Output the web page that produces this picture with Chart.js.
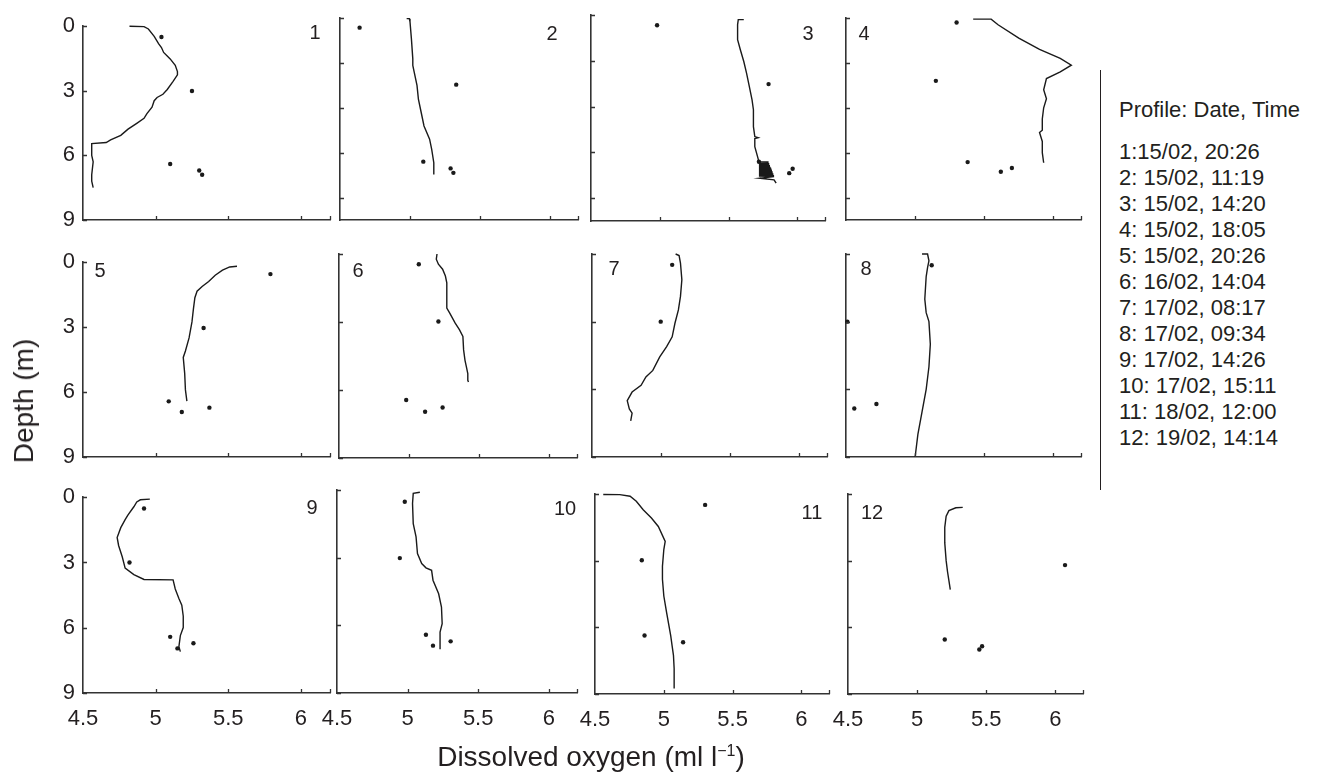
<!DOCTYPE html>
<html>
<head>
<meta charset="utf-8">
<script src="https://cdn.jsdelivr.net/npm/chart.js@4.4.0/dist/chart.umd.min.js"></script>
<style>
  body { margin: 0; background: #fff; }
  #fig { position: relative; width: 1324px; height: 774px; overflow: hidden;
         font-family: "Liberation Sans", Arial, sans-serif; color: #231f20; }
  #fig canvas { position: absolute; }
  .num { position: absolute; font-size: 20px; line-height: 20px; transform: translate(-50%, -50%); }
  .title { position: absolute; font-size: 28px; white-space: nowrap; }
  #legend { position: absolute; left: 1100px; top: 70px; height: 420px; border-left: 1.5px solid #231f20;
            padding-left: 18px; font-size: 22px; line-height: 26px; white-space: nowrap; }
</style>
</head>
<body>
<div id="fig"></div>
<script>
// ---- profile data: oxygen (ml/l) and depth (m) ----
const oxy1 = [4.82, 4.92, 4.95, 4.99, 5.02, 5.04, 5.055, 5.10, 5.135, 5.15, 5.15, 5.12, 5.08, 5.05, 5.01, 4.99, 4.975, 4.94, 4.92, 4.87, 4.81, 4.76, 4.69, 4.66, 4.56, 4.56, 4.57, 4.56, 4.56, 4.57];
const depth1 = [0.0, 0.02, 0.13, 0.47, 0.81, 0.99, 1.22, 1.52, 1.82, 2.11, 2.26, 2.56, 2.94, 3.16, 3.31, 3.46, 3.76, 4.06, 4.28, 4.51, 4.78, 5.07, 5.28, 5.40, 5.45, 6.0, 6.3, 6.9, 7.2, 7.5];
const dotOxy1 = [5.04, 5.25, 5.10, 5.30, 5.32];
const dotDepth1 = [0.5, 3.01, 6.4, 6.7, 6.9];

const oxy2 = [4.976, 4.995, 5.0, 5.01, 5.02, 5.02, 5.03, 5.05, 5.06, 5.08, 5.10, 5.14, 5.155, 5.17, 5.17];
const depth2 = [0.03, 0.03, 0.17, 0.92, 1.82, 2.11, 2.41, 3.0, 3.61, 4.21, 4.81, 5.40, 5.85, 6.45, 6.97];
const dotOxy2 = [4.64, 5.33, 5.095, 5.29, 5.31];
const dotDepth2 = [0.43, 2.97, 6.4, 6.7, 6.9];

const oxy3 = [5.61, 5.57, 5.565, 5.565, 5.585, 5.61, 5.63, 5.65, 5.67, 5.68, 5.68, 5.69, 5.715, 5.69, 5.69, 5.71, 5.72,
  5.79, 5.72, 5.79, 5.72, 5.795, 5.72, 5.795, 5.72, 5.80, 5.72, 5.80, 5.72, 5.805, 5.72, 5.81, 5.72, 5.81, 5.72,
  5.815, 5.72, 5.815, 5.72, 5.82, 5.72, 5.82, 5.72, 5.825, 5.72, 5.825, 5.72, 5.83, 5.72, 5.83,
  5.725, 5.83, 5.845];
const depth3 = [0.2, 0.2, 0.42, 1.08, 1.52, 2.03, 2.54, 3.12, 3.71, 4.14, 4.88, 5.31, 5.36, 5.4, 5.75, 6.19, 6.41,
  6.42, 6.44, 6.46, 6.48, 6.50, 6.52, 6.54, 6.56, 6.58, 6.60, 6.62, 6.64, 6.66, 6.68, 6.70, 6.72, 6.74, 6.76,
  6.78, 6.80, 6.82, 6.84, 6.86, 6.88, 6.90, 6.92, 6.94, 6.96, 6.98, 7.00, 7.02, 7.04, 7.06,
  7.13, 7.2, 7.35];
const dotOxy3 = [4.98, 5.79, 5.72, 5.94, 5.965];
const dotDepth3 = [0.45, 3.02, 6.41, 6.91, 6.72];

const oxy4 = [5.42, 5.55, 5.6, 5.75, 5.9, 6.05, 6.13, 6.05, 5.95, 5.93, 5.95, 5.93, 5.92, 5.92, 5.9, 5.92, 5.92, 5.93];
const depth4 = [0.05, 0.05, 0.3, 0.9, 1.4, 1.8, 2.1, 2.4, 2.7, 3.2, 3.6, 4.0, 4.5, 5.0, 5.1, 5.5, 6.0, 6.45];
const dotOxy4 = [5.3, 5.15, 5.38, 5.62, 5.7];
const dotDepth4 = [0.2, 2.8, 6.42, 6.85, 6.68];

const oxy5 = [5.56, 5.51, 5.46, 5.41, 5.365, 5.32, 5.285, 5.27, 5.26, 5.25, 5.23, 5.205, 5.19, 5.20, 5.205, 5.215];
const depth5 = [0.19, 0.22, 0.37, 0.6, 0.89, 1.12, 1.34, 1.64, 2.16, 2.76, 3.5, 4.1, 4.4, 5.15, 5.9, 6.42];
const dotOxy5 = [5.79, 5.33, 5.09, 5.18, 5.37];
const dotDepth5 = [0.55, 3.04, 6.43, 6.92, 6.72];

const oxy6 = [5.20, 5.195, 5.21, 5.24, 5.26, 5.27, 5.27, 5.27, 5.29, 5.33, 5.36, 5.385, 5.39, 5.40, 5.41, 5.42, 5.42, 5.425];
const depth6 = [0.0, 0.23, 0.45, 0.67, 0.97, 1.27, 1.86, 2.39, 2.6, 3.05, 3.34, 3.64, 4.23, 4.69, 4.98, 5.28, 5.57, 5.65];
const dotOxy6 = [5.07, 5.21, 4.98, 5.115, 5.24];
const dotDepth6 = [0.45, 2.98, 6.44, 6.96, 6.77];

const oxy7 = [5.105, 5.13, 5.14, 5.15, 5.14, 5.125, 5.10, 5.08, 5.04, 4.99, 4.94, 4.89, 4.855, 4.79, 4.755, 4.77, 4.79, 4.78];
const depth7 = [0.0, 0.07, 0.4, 1.14, 1.88, 2.48, 3.07, 3.67, 4.11, 4.56, 5.16, 5.45, 5.82, 6.12, 6.5, 6.87, 7.06, 7.4];
const dotOxy7 = [5.08, 4.997];
const dotDepth7 = [0.48, 3.0];

const oxy8 = [5.05, 5.09, 5.10, 5.09, 5.08, 5.07, 5.08, 5.10, 5.11, 5.10, 5.08, 5.05, 5.02, 5.0];
const depth8 = [0.0, 0.0, 0.3, 0.6, 1.0, 2.0, 2.6, 3.0, 4.0, 5.0, 6.0, 7.0, 8.0, 9.0];
const dotOxy8 = [5.12, 4.51, 4.56, 4.72];
const dotDepth8 = [0.5, 3.0, 6.85, 6.65];

const oxy9 = [4.96, 4.895, 4.87, 4.85, 4.81, 4.79, 4.76, 4.735, 4.745, 4.77, 4.79, 4.85, 4.92, 5.12, 5.135, 5.16, 5.18, 5.19, 5.19, 5.17, 5.16, 5.17];
const depth9 = [0.09, 0.12, 0.22, 0.44, 0.81, 1.03, 1.4, 1.85, 2.22, 2.74, 3.26, 3.56, 3.78, 3.8, 4.22, 4.66, 4.96, 5.47, 5.99, 6.36, 6.87, 7.1];
const dotOxy9 = [4.92, 4.82, 5.10, 5.26, 5.15];
const dotDepth9 = [0.52, 3.0, 6.42, 6.71, 6.95];

const oxy10 = [5.087, 5.04, 5.035, 5.04, 5.06, 5.07, 5.10, 5.13, 5.17, 5.18, 5.22, 5.24, 5.245, 5.23, 5.23];
const depth10 = [0.1, 0.15, 0.6, 1.49, 2.08, 2.82, 3.26, 3.45, 3.56, 4.0, 4.6, 5.19, 5.93, 6.3, 7.06];
const dotOxy10 = [4.98, 4.945, 5.13, 5.18, 5.305];
const dotDepth10 = [0.52, 3.02, 6.42, 6.9, 6.71];

const oxy11 = [4.56, 4.68, 4.755, 4.80, 4.85, 4.91, 4.96, 5.01, 5.0, 4.99, 4.99, 5.0, 5.02, 5.05, 5.06, 5.07, 5.075, 5.075];
const depth11 = [0.02, 0.03, 0.1, 0.33, 0.71, 1.08, 1.46, 2.13, 2.5, 3.25, 3.84, 4.59, 5.33, 6.37, 6.82, 7.26, 7.86, 8.75];
const dotOxy11 = [5.30, 4.84, 4.86, 5.14];
const dotDepth11 = [0.49, 2.98, 6.37, 6.67];

const oxy12 = [5.33, 5.28, 5.23, 5.21, 5.2, 5.2, 5.21, 5.22, 5.23, 5.24];
const depth12 = [0.6, 0.62, 0.75, 1.0, 1.5, 2.2, 3.0, 3.5, 3.9, 4.3];
const dotOxy12 = [6.07, 5.2, 5.47, 5.45];
const dotDepth12 = [3.2, 6.55, 6.85, 7.0];

const xTickVals = [4.5, 5, 5.5, 6];
const yTickVals = [0, 3, 6, 9];
const yTickVals2 = [0, 2, 4, 6, 8];

const legendTitle = 'Profile: Date, Time';
const legendItems = ['1:15/02, 20:26', '2: 15/02, 11:19', '3: 15/02, 14:20', '4: 15/02, 18:05',
  '5: 15/02, 20:26', '6: 16/02, 14:04', '7: 17/02, 08:17', '8: 17/02, 09:34',
  '9: 17/02, 14:26', '10: 17/02, 15:11', '11: 18/02, 12:00', '12: 19/02, 14:14'];

// ---- panel placement (plot area in px) ----
const frames = [
  { l: 83, t: 19, w: 247, h: 201, yt: yTickVals, lx: 315, ly: 32 },
  { l: 340, t: 18, w: 238, h: 202, yt: yTickVals2, lx: 552, ly: 33 },
  { l: 591, t: 15, w: 234, h: 206, yt: yTickVals2, lx: 808, ly: 33 },
  { l: 846, t: 18, w: 235, h: 202, yt: yTickVals2, lx: 864, ly: 33 },
  { l: 83, t: 255, w: 247, h: 202, yt: yTickVals, lx: 100, ly: 270 },
  { l: 339, t: 254, w: 238, h: 204, yt: yTickVals, lx: 358, ly: 270 },
  { l: 592, t: 254, w: 235, h: 203, yt: yTickVals, lx: 614, ly: 268 },
  { l: 846, t: 254, w: 235, h: 203, yt: yTickVals, lx: 866, ly: 268 },
  { l: 83, t: 490, w: 247, h: 203, yt: yTickVals, lx: 312, ly: 507 },
  { l: 337, t: 490, w: 240, h: 203, yt: yTickVals, lx: 565, ly: 508 },
  { l: 595, t: 494, w: 234, h: 200, yt: yTickVals, lx: 812, ly: 512 },
  { l: 848, t: 494, w: 235, h: 200, yt: yTickVals, lx: 872, ly: 512 }
];

const profiles = [
  [oxy1, depth1, dotOxy1, dotDepth1], [oxy2, depth2, dotOxy2, dotDepth2],
  [oxy3, depth3, dotOxy3, dotDepth3], [oxy4, depth4, dotOxy4, dotDepth4],
  [oxy5, depth5, dotOxy5, dotDepth5], [oxy6, depth6, dotOxy6, dotDepth6],
  [oxy7, depth7, dotOxy7, dotDepth7], [oxy8, depth8, dotOxy8, dotDepth8],
  [oxy9, depth9, dotOxy9, dotDepth9], [oxy10, depth10, dotOxy10, dotDepth10],
  [oxy11, depth11, dotOxy11, dotDepth11], [oxy12, depth12, dotOxy12, dotDepth12]
];

const ink = '#1a1a1a';
const axisInk = '#333';
const padL = 50, padR = 12, padT = 14, padB = 50;
const fig = document.getElementById('fig');

// small inward tick marks, matlab style
const inwardTicks = {
  id: 'inwardTicks',
  afterDraw(chart, args, opts) {
    const { ctx, chartArea: a, scales: { x, y } } = chart;
    ctx.save();
    ctx.strokeStyle = axisInk;
    ctx.lineWidth = 1.3;
    ctx.beginPath();
    opts.xt.forEach(v => {
      const px = Math.round(x.getPixelForValue(v)) + 0.5;
      ctx.moveTo(px, a.bottom);
      ctx.lineTo(px, a.bottom - 4);
    });
    opts.yt.forEach(v => {
      const py = Math.round(y.getPixelForValue(v)) + 0.5;
      ctx.moveTo(a.left, py);
      ctx.lineTo(a.left + 4, py);
    });
    ctx.stroke();
    ctx.restore();
  }
};

const pts = (xs, ys) => xs.map((v, i) => ({ x: v, y: ys[i] }));

frames.forEach((f, i) => {
  const [ox, dp, dox, ddp] = profiles[i];
  const showY = i % 4 === 0;
  const showX = i >= 8;
  const canvas = document.createElement('canvas');
  const cw = f.w + padL + padR, ch = f.h + padT + padB;
  canvas.width = cw; canvas.height = ch;
  canvas.style.left = (f.l - padL) + 'px';
  canvas.style.top = (f.t - padT) + 'px';
  canvas.style.width = cw + 'px';
  canvas.style.height = ch + 'px';
  fig.appendChild(canvas);

  new Chart(canvas, {
    type: 'scatter',
    data: {
      datasets: [
        { data: pts(ox, dp), showLine: true, borderColor: ink, borderWidth: 1.4, pointRadius: 0, tension: 0, clip: 4 },
        { data: pts(dox, ddp), pointRadius: 2.2, backgroundColor: ink, borderWidth: 0, clip: 6 }
      ]
    },
    options: {
      responsive: false,
      animation: false,
      events: [],
      layout: { padding: { top: padT, right: padR, left: 0, bottom: 0 }, autoPadding: false },
      plugins: {
        legend: { display: false },
        tooltip: { enabled: false },
        inwardTicks: { xt: [5, 5.5, 6, 6.2], yt: f.yt }
      },
      scales: {
        x: {
          type: 'linear', min: 4.5, max: 6.2,
          grid: { display: false, drawTicks: false },
          border: { display: true, color: axisInk, width: 1.6 },
          afterBuildTicks: s => { s.ticks = xTickVals.map(v => ({ value: v })); },
          afterFit: s => { s.height = padB; },
          ticks: {
            display: showX, padding: 13, color: '#231f20',
            font: { family: 'Liberation Sans', size: 22 },
            callback: v => String(v)
          }
        },
        y: {
          type: 'linear', min: 0, max: 9, reverse: true,
          grid: { display: false, drawTicks: false },
          border: { display: true, color: axisInk, width: 1.6 },
          afterBuildTicks: s => { s.ticks = yTickVals.map(v => ({ value: v })); },
          afterFit: s => { s.width = padL; },
          ticks: {
            display: showY, padding: 8, color: '#231f20',
            font: { family: 'Liberation Sans', size: 22 },
            callback: v => String(v)
          }
        }
      }
    },
    plugins: [inwardTicks]
  });

  const lab = document.createElement('div');
  lab.className = 'num';
  lab.style.left = f.lx + 'px';
  lab.style.top = f.ly + 'px';
  lab.textContent = String(i + 1);
  fig.appendChild(lab);
});

// axis titles
const yTitle = document.createElement('div');
yTitle.className = 'title';
yTitle.textContent = 'Depth (m)';
yTitle.style.left = '24px';
yTitle.style.top = '401px';
yTitle.style.transform = 'translate(-50%, -50%) rotate(-90deg)';
fig.appendChild(yTitle);

const xTitle = document.createElement('div');
xTitle.className = 'title';
xTitle.innerHTML = 'Dissolved oxygen (ml l<sup style="font-size:16px">\u22121</sup>)';
xTitle.style.left = '591px';
xTitle.style.top = '757px';
xTitle.style.transform = 'translate(-50%, -50%)';
fig.appendChild(xTitle);

// legend block
const legend = document.createElement('div');
legend.id = 'legend';
legend.innerHTML = '<div style="margin-top:27px;margin-bottom:16px">' + legendTitle + '</div>' +
  legendItems.map(s => '<div>' + s + '</div>').join('');
fig.appendChild(legend);
</script>
</body>
</html>
